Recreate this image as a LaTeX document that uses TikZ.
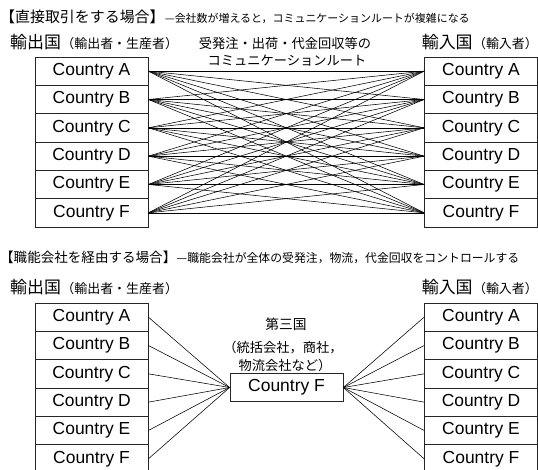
\documentclass[tikz,border=0pt]{standalone}
\usepackage{fontspec}
\setmainfont{Liberation Sans}
\newfontfamily\jp{Noto Sans CJK JP}
\begin{document}
\begin{tikzpicture}[x=1bp,y=-1bp,
  cbox/.style={draw=black!85, line width=0.8bp, minimum width=113bp, minimum height=28.33bp, inner sep=0pt, font=\fontsize{17.5}{17.5}\selectfont},
  link/.style={line width=0.55bp},
  lbl/.style={inner sep=0pt, anchor=base west},
  midlbl/.style={inner sep=0pt, anchor=base, font=\jp\fontsize{13.3}{13.3}\selectfont},
  hdrbig/.style={inner sep=0pt, font=\jp\fontsize{17}{17}\selectfont},
  hdrsmall/.style={inner sep=0pt, font=\jp\fontsize{13}{13}\selectfont}]
\useasboundingbox (0,0) rectangle (538,470);
% ---------- top section ----------
\node[lbl, font=\jp\fontsize{15}{15}\selectfont] (t1) at (0,22.5) {【直接取引をする場合】};
\node[lbl, font=\jp\fontsize{11}{11}\selectfont] (s1) at (t1.base east) {—会社数が増えると，コミュニケーションルートが複雑になる};
\node[hdrbig, anchor=base west] (h1l) at (10,48.5) {輸出国};
\node[hdrsmall, anchor=base west] (h1lp) at (h1l.base east) {（輸出者・生産者）};
\node[hdrsmall, anchor=base east] (h1rp) at (538,48.5) {（輸入者）};
\node[hdrbig, anchor=base east] (h1r) at (h1rp.base west) {輸入国};
\node[midlbl] (m1) at (285,48.5) {受発注・出荷・代金回収等の};
\node[midlbl] (m2) at (287,66) {コミュニケーションルート};
\foreach \i/\t in {1/A,2/B,3/C,4/D,5/E,6/F}{
  \node[cbox] (L\i) at (91.5,{57+28.33*(\i-0.5)}) {Country \t};
  \node[cbox] (R\i) at (481,{57+28.33*(\i-0.5)}) {Country \t};
}
\foreach \i in {1,...,6}{
  \foreach \j in {1,...,6}{
    \draw[link] (L\i.east) -- (R\j.west);
  }
}
% ---------- bottom section ----------
\node[lbl, font=\jp\fontsize{13.6}{13.6}\selectfont] (t2) at (0,263) {【職能会社を経由する場合】};
\node[lbl, font=\jp\fontsize{11.9}{11.9}\selectfont] (s2) at (t2.base east) {—職能会社が全体の受発注，物流，代金回収をコントロールする};
\node[hdrbig, anchor=base west] (h2l) at (10,293.5) {輸出国};
\node[hdrsmall, anchor=base west] (h2lp) at (h2l.base east) {（輸出者・生産者）};
\node[hdrsmall, anchor=base east] (h2rp) at (538,293.5) {（輸入者）};
\node[hdrbig, anchor=base east] (h2r) at (h2rp.base west) {輸入国};
\node[midlbl, font=\jp\fontsize{13.8}{13.8}\selectfont] (c1) at (286,329) {第三国};
\node[midlbl] (c2) at (283,352) {（統括会社，商社，};
\node[midlbl] (c3) at (285,370) {物流会社など）};
\node[cbox] (C) at (286.5,387.5) {Country F};
\foreach \i/\t in {1/A,2/B,3/C,4/D,5/E,6/F}{
  \node[cbox] (BL\i) at (91.5,{303+28.33*(\i-0.5)}) {Country \t};
  \node[cbox] (BR\i) at (481,{303+28.33*(\i-0.5)}) {Country \t};
  \draw[link] (BL\i.east) -- (C.west);
  \draw[link] (C.east) -- (BR\i.west);
}
\end{tikzpicture}
\end{document}
